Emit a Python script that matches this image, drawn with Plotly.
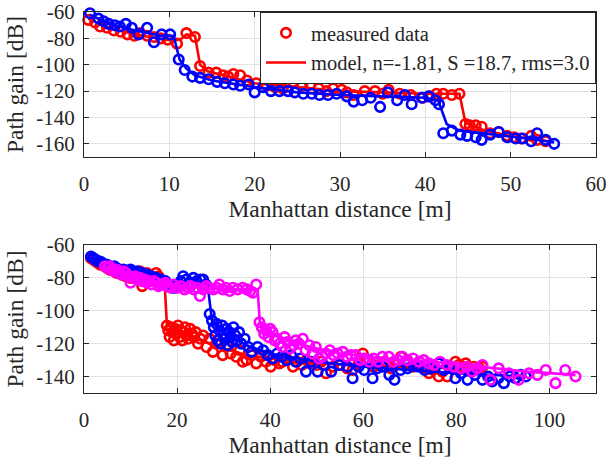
import plotly.graph_objects as go

# ---------------- Top panel data ----------------
top_red_x = [0.5, 1.3, 1.9, 2.7, 3.5, 4.3, 5.1, 5.9, 6.6, 7.4,
             8.2, 9.0, 9.8, 10.9, 12.0, 13.0, 13.6, 14.6, 15.5, 16.3,
             16.9, 17.5, 18.3, 19.1, 20.2, 21.4, 22.4, 23.3, 24.5, 25.6,
             26.5, 27.5, 28.4, 29.2, 30.2, 30.8, 31.6, 32.9, 34.1, 35.0,
             35.7, 37.0, 38.3, 39.7, 40.5, 41.3, 42.1, 43.1, 44.0, 44.7,
             45.2, 45.9, 46.6, 47.6, 48.6, 49.6, 50.4, 51.2, 52.4, 53.1,
             54.1]
top_red_y = [-66, -68, -71, -72, -74, -75, -77, -78, -76, -78,
             -79, -80, -81, -84, -76, -79, -101, -106, -106, -108,
             -109, -107, -108, -112, -114, -116, -117, -118, -113, -116,
             -115, -118, -120, -118, -119, -121, -123, -120, -120, -122,
             -119, -122, -123, -125, -124, -122, -122, -123, -122, -145,
             -146, -146, -147, -152, -151, -154, -155, -156, -154, -157,
             -158]
top_blue_x = [0.7, 1.7, 2.3, 2.9, 3.6, 4.2, 4.9, 5.6, 6.4, 7.4,
              8.2, 9.1, 10.1, 11.1, 11.8, 12.7, 13.6, 14.6, 15.6, 16.5,
              17.5, 18.3, 19.3, 20.0, 21.0, 21.9, 22.9, 23.9, 24.7, 25.7,
              26.7, 27.6, 28.6, 29.6, 30.8, 31.6, 32.6, 33.6, 34.7, 35.6,
              36.7, 37.6, 38.4, 39.6, 40.4, 41.2, 41.6, 42.1, 43.1, 44.1,
              44.9, 45.9, 46.6, 47.6, 48.6, 49.6, 50.6, 51.4, 52.4, 53.1,
              54.1, 55.1]
top_blue_y = [-61, -65, -67, -69, -70, -71, -69, -72, -77, -72,
              -83, -77, -77, -96, -104, -109, -110, -111, -113, -114,
              -115, -116, -115, -121, -117, -120, -120, -120, -121, -122,
              -122, -123, -123, -122, -124, -128, -127, -125, -132, -121,
              -127, -123, -130, -125, -124, -127, -130, -152, -150, -153,
              -154, -155, -157, -153, -151, -155, -156, -156, -158, -152,
              -157, -160]
top_red_model_x = [0.5, 3, 6, 9, 10.5, 11.5, 12, 13, 13.6, 14.5, 17, 20, 25, 30, 35, 40, 44, 44.7, 47, 50, 54.5]
top_red_model_y = [-65, -72, -77, -80, -82, -80, -77, -78, -100, -105, -109, -114, -117, -120, -121, -122, -122, -144, -150, -154, -158]
top_blue_model_x = [0.7, 3, 6, 9, 10.5, 11.2, 12, 13, 15, 20, 25, 30, 35, 40, 41.5, 42.5, 44, 48, 52, 55.1]
top_blue_model_y = [-62, -69, -74, -78, -78, -96, -103, -108, -112, -117, -121, -123, -124, -125, -127, -145, -150, -153, -156, -159]

# ---------------- Bottom panel data ----------------
bot_red_x = [1.5, 2.0, 2.5, 3.0, 3.5, 4.0, 4.5, 5.0, 5.5, 6.0,
             6.5, 7.0, 7.5, 8.0, 8.5, 9.0, 9.5, 10.0, 10.5, 11.0,
             11.5, 12.0, 12.5, 13.0, 13.5, 14.0, 14.5, 15.0, 15.5, 16.0,
             16.5, 17.0, 17.8, 18.1, 18.4, 18.7, 19.0, 19.3, 19.6, 19.9,
             20.2, 20.5, 20.8, 21.1, 21.4, 21.7, 22.0, 22.4, 22.8, 23.2,
             23.6, 24.0, 24.5, 25.0, 25.6, 26.3, 27.0, 27.7, 28.4, 29.8,
             30.5, 31.5, 32.7, 33.5, 34.1, 34.9, 36.0, 37.0, 38.0, 39.1,
             40.1, 41.0, 42.0, 42.6, 43.5, 44.9, 45.8, 46.8, 47.8, 48.8,
             50.0, 51.0, 52.0, 53.5, 55.0, 56.5, 57.7, 59.0, 59.9, 61.0,
             62.2, 63.2, 64.5, 65.9, 67.0, 68.1, 69.5, 70.8, 72.0, 73.0,
             74.1, 75.0, 76.2, 77.0, 78.0, 79.0, 79.8, 80.5, 81.3, 82.0,
             82.7, 83.8, 84.9, 85.6]
bot_red_y = [-68, -69, -70, -71, -72, -72, -73, -74, -75, -75,
             -76, -77, -77, -78, -78, -79, -78, -80, -79, -77,
             -78, -76, -85, -80, -77, -81, -82, -80, -77, -79,
             -81, -82, -109, -112, -116, -110, -113, -118, -111, -114,
             -109, -116, -112, -118, -113, -110, -115, -117, -111, -114,
             -116, -113, -120, -117, -115, -122, -117, -125, -120, -127,
             -122, -126, -128, -124, -131, -130, -127, -132, -128, -131,
             -134, -130, -132, -131, -129, -134, -131, -133, -130, -132,
             -133, -131, -138, -134, -133, -135, -136, -132, -126, -131,
             -134, -133, -131, -135, -133, -128, -132, -134, -131, -135,
             -138, -136, -140, -137, -140, -134, -131, -133, -134, -132,
             -135, -134, -135, -134]
bot_blue_x = [1.5, 2.0, 2.5, 3.0, 3.5, 4.0, 4.5, 5.0, 5.5, 6.0,
              6.5, 7.0, 7.5, 8.0, 8.5, 9.0, 9.5, 10.0, 10.5, 11.0,
              11.5, 12.0, 12.5, 13.0, 13.5, 14.0, 14.5, 15.0, 15.5, 16.0,
              16.5, 17.0, 17.5, 18.0, 18.5, 19.0, 19.6, 20.2, 20.8, 21.3,
              22.0, 22.8, 23.5, 24.2, 25.0, 25.6, 26.2, 27.0, 27.5, 27.9,
              28.2, 28.5, 28.8, 29.1, 29.4, 29.7, 30.0, 30.3, 30.6, 30.9,
              31.2, 31.5, 31.8, 32.1, 32.5, 32.9, 33.3, 33.8, 34.5, 35.3,
              36.0, 37.3, 38.5, 39.5, 40.5, 41.5, 42.5, 43.5, 44.5, 45.5,
              46.5, 47.7, 48.8, 50.2, 51.5, 53.1, 54.8, 56.6, 57.7, 59.0,
              60.2, 61.3, 62.0, 63.0, 64.1, 65.6, 66.7, 68.0, 69.5, 70.8,
              71.9, 73.2, 74.5, 76.2, 77.3, 78.4, 79.8, 81.0, 82.4, 84.0,
              85.6, 86.8, 87.7, 89.0, 90.2, 91.5, 92.7, 93.8, 94.9]
bot_blue_y = [-67, -68, -69, -70, -70, -71, -72, -72, -73, -74,
              -73, -74, -75, -76, -75, -77, -76, -75, -76, -77,
              -76, -78, -77, -79, -78, -80, -79, -81, -80, -82,
              -81, -83, -82, -84, -85, -86, -86, -84, -82, -79,
              -81, -83, -80, -82, -81, -81, -84, -102, -106, -110,
              -115, -108, -118, -112, -120, -109, -114, -117, -111, -121,
              -113, -116, -119, -110, -115, -118, -113, -120, -117, -122,
              -125, -122, -124, -127, -129, -126, -128, -130, -127, -131,
              -129, -137, -131, -137, -133, -137, -133, -134, -141, -134,
              -136, -130, -141, -135, -134, -139, -142, -136, -135, -133,
              -134, -136, -135, -132, -136, -134, -141, -138, -142, -139,
              -142, -140, -143, -141, -144, -140, -141, -139, -140]
bot_mag_x = [4.5, 5.0, 5.5, 6.0, 6.5, 7.0, 7.5, 8.0, 8.5, 9.0,
             9.5, 10.0, 10.5, 11.0, 11.5, 12.0, 12.5, 13.0, 13.5, 14.0,
             14.5, 15.0, 15.5, 16.0, 16.5, 17.0, 17.5, 18.0, 18.6, 19.2,
             20.0, 20.8, 21.6, 22.4, 22.9, 23.6, 24.3, 24.9, 25.6, 26.3,
             27.0, 27.8, 28.5, 29.1, 29.8, 30.5, 31.3, 32.0, 33.0, 34.1,
             35.0, 35.7, 36.3, 37.0, 37.7, 38.2, 38.7, 39.1, 39.6, 40.0,
             40.5, 41.0, 41.5, 42.0, 42.6, 43.1, 43.7, 44.3, 45.0, 45.5,
             46.2, 47.0, 47.6, 48.4, 49.1, 49.8, 50.5, 51.2, 52.0, 52.8,
             53.6, 54.5, 55.6, 56.5, 57.4, 58.4, 59.3, 60.2, 61.3, 62.2,
             63.2, 64.1, 65.5, 66.5, 67.5, 68.4, 69.5, 70.7, 72.0, 73.0,
             74.1, 75.2, 76.5, 78.0, 79.5, 81.0, 82.2, 83.4, 84.5, 85.6,
             87.3, 89.1, 91.3, 93.4, 95.6, 97.4, 99.2, 101.3, 103.4, 105.6]
bot_mag_y = [-73, -74, -73, -75, -76, -75, -77, -78, -76, -77,
             -79, -83, -80, -79, -81, -80, -82, -81, -83, -82,
             -84, -82, -83, -85, -84, -84, -83, -85, -86, -84,
             -86, -85, -87, -86, -85, -87, -86, -91, -87, -85,
             -86, -87, -86, -84, -87, -86, -88, -86, -87, -86,
             -87, -88, -89, -84, -107, -110, -114, -112, -116, -111,
             -113, -118, -117, -120, -122, -116, -119, -123, -121, -118,
             -120, -117, -124, -121, -126, -122, -129, -128, -126, -124,
             -127, -126, -125, -128, -127, -127, -130, -129, -131, -129,
             -131, -128, -128, -131, -130, -128, -130, -129, -131, -130,
             -132, -133, -131, -133, -134, -135, -134, -137, -135, -133,
             -142, -135, -138, -142, -138, -139, -136, -144, -136, -140]
bot_red_model_x = [1.5, 5, 10, 15, 17.3, 17.8, 20, 25, 30, 35, 40, 50, 60, 70, 80, 85.6]
bot_red_model_y = [-68, -73, -78, -81, -82, -108, -112, -118, -123, -127, -129, -132, -133, -134, -135, -135]
bot_blue_model_x = [1.5, 5, 10, 15, 20, 26.5, 27.5, 30, 35, 40, 50, 60, 70, 80, 94.9]
bot_blue_model_y = [-67, -72, -76, -80, -83, -83, -106, -114, -121, -126, -131, -134, -136, -138, -140]
bot_mag_model_x = [4.5, 10, 20, 30, 37.3, 37.8, 42, 47, 55, 65, 75, 85, 95, 105.6]
bot_mag_model_y = [-73, -79, -85, -87, -87, -108, -116, -121, -126, -129, -131, -134, -137, -139]

top_xticks = [0, 10, 20, 30, 40, 50, 60]
top_yticks = [-160, -140, -120, -100, -80, -60]
top_yticktext = ["-160", "-140", "-120", "-100", "-80", "-60"]
bot_xticks = [0, 20, 40, 60, 80, 100]
bot_yticks = [-140, -120, -100, -80, -60]
bot_yticktext = ["-140", "-120", "-100", "-80", "-60"]

legend_measured = "measured data"
legend_model = "model, n=-1.81, S =18.7, rms=3.0"

RED, BLUE, MAG = "#ff0000", "#0000ff", "#ff00ff"
FONT = "Liberation Serif"
INK = "#262626"

fig = go.Figure()


def markers(x, y, color, xa, ya, name=None, show=False):
    fig.add_trace(go.Scatter(
        x=x, y=y, mode="markers", xaxis=xa, yaxis=ya, name=name, showlegend=show,
        cliponaxis=False,
        marker=dict(symbol="circle-open", size=9.5, color=color, line=dict(width=2.6, color=color))))


def line(x, y, color, xa, ya, name=None, show=False):
    fig.add_trace(go.Scatter(
        x=x, y=y, mode="lines", xaxis=xa, yaxis=ya, name=name, showlegend=show,
        line=dict(color=color, width=2.6)))


markers(top_red_x, top_red_y, RED, "x", "y", legend_measured, True)
line(top_red_model_x, top_red_model_y, RED, "x", "y", legend_model, True)
markers(top_blue_x, top_blue_y, BLUE, "x", "y")
line(top_blue_model_x, top_blue_model_y, BLUE, "x", "y")

markers(bot_red_x, bot_red_y, RED, "x2", "y2")
line(bot_red_model_x, bot_red_model_y, RED, "x2", "y2")
markers(bot_blue_x, bot_blue_y, BLUE, "x2", "y2")
line(bot_blue_model_x, bot_blue_model_y, BLUE, "x2", "y2")
markers(bot_mag_x, bot_mag_y, MAG, "x2", "y2")
line(bot_mag_model_x, bot_mag_model_y, MAG, "x2", "y2")

axis_common = dict(
    showline=True, linecolor=INK, linewidth=1, mirror="ticks",
    ticks="inside", ticklen=5, tickcolor=INK, tickwidth=1,
    showgrid=True, gridcolor="#e2e2e2", gridwidth=1, zeroline=False,
    tickfont=dict(family=FONT, size=21, color=INK),
    automargin=False, ticklabeloverflow="allow",
)
title_font = dict(family=FONT, size=23.5, color=INK)

fig.update_layout(
    width=610, height=462,
    margin=dict(l=84, r=14, t=12, b=69),
    plot_bgcolor="white", paper_bgcolor="white",
    font=dict(family=FONT, color=INK),
    xaxis=dict(axis_common, domain=[0, 1], anchor="y", range=[0, 60], tickvals=top_xticks,
               ticklabelstandoff=8,
               title=dict(text="Manhattan distance [m]", font=title_font, standoff=4)),
    yaxis=dict(axis_common, domain=[0.6194, 1], anchor="x", range=[-170, -60],
               tickvals=top_yticks, ticktext=top_yticktext,
               ticklabelstandoff=4,
               title=dict(text="Path gain [dB]", font=title_font, standoff=6)),
    xaxis2=dict(axis_common, domain=[0, 1], anchor="y2", range=[0, 110], tickvals=bot_xticks,
                ticklabelstandoff=8,
                title=dict(text="Manhattan distance [m]", font=title_font, standoff=4)),
    yaxis2=dict(axis_common, domain=[0, 0.3885], anchor="x2", range=[-150, -60],
                tickvals=bot_yticks, ticktext=bot_yticktext,
                ticklabelstandoff=4,
                title=dict(text="Path gain [dB]", font=title_font, standoff=6)),
    legend=dict(x=1, y=1, xanchor="right", yanchor="top", xref="paper", yref="paper",
                bgcolor="white", bordercolor=INK, borderwidth=1,
                font=dict(family=FONT, size=20.5, color=INK),
                tracegroupgap=0, itemwidth=40),
)

fig.write_html("out.html", config={"displayModeBar": False},
               post_script="document.body.style.margin='0';")
